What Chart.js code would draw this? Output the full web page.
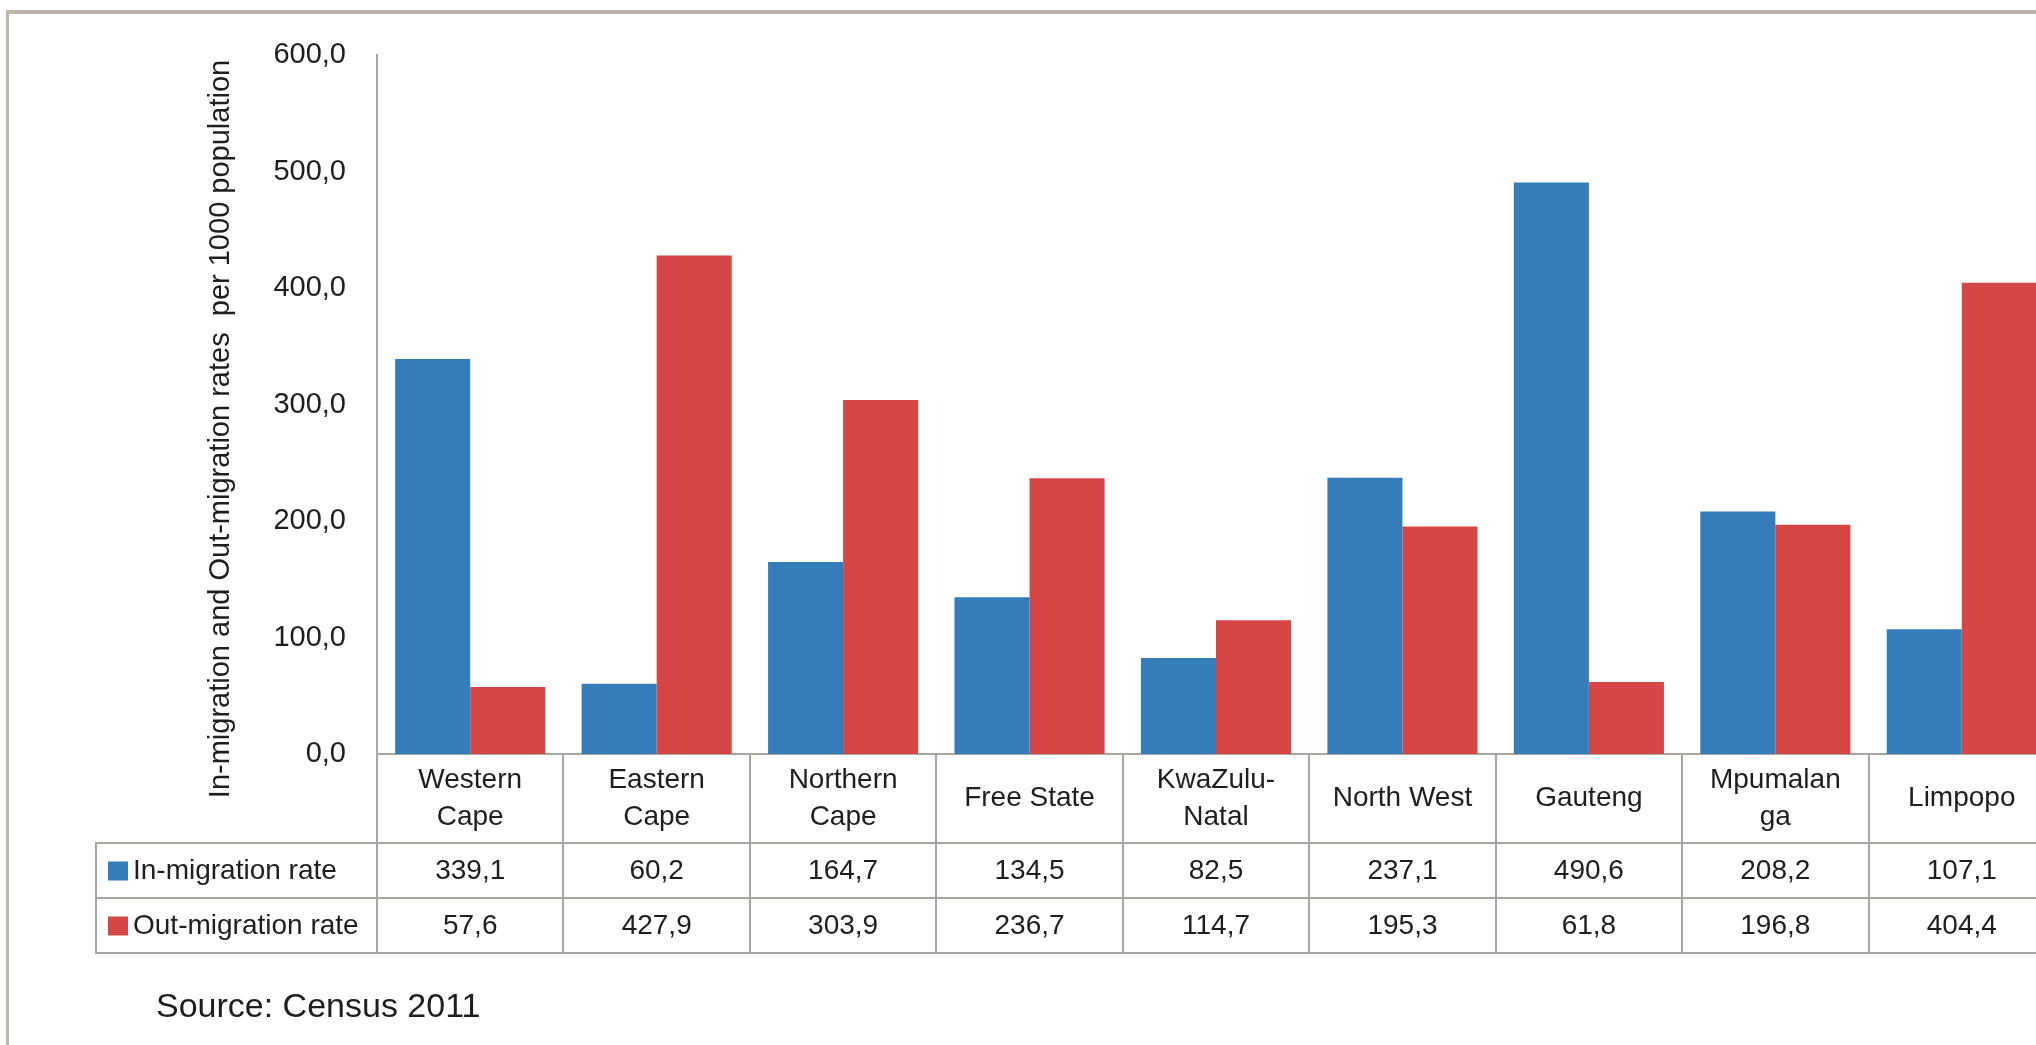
<!DOCTYPE html>
<html>
<head>
<meta charset="utf-8">
<script src="https://cdn.jsdelivr.net/npm/chart.js@4.4.1/dist/chart.umd.min.js"></script>
<style>
  html, body { margin: 0; padding: 0; background: #fff; }
  body { width: 2036px; height: 1045px; overflow: hidden; position: relative; }
  #frame {
    position: absolute; left: 6px; top: 10px; width: 2200px; height: 1200px;
    border-top: 4px solid #bab5af; border-left: 3px solid #bab5af;
  }
  #chart { position: absolute; left: 0; top: 0; }
  #source {
    position: absolute; left: 156px; top: 986px;
    font: 34px "Liberation Sans", Arial, sans-serif; color: #1e1e1e;
  }
</style>
</head>
<body>
<div id="frame"></div>
<canvas id="chart" width="2100" height="1045"></canvas>
<div id="source">Source: Census 2011</div>

<script>
const categories = [
  ["Western", "Cape"], ["Eastern", "Cape"], ["Northern", "Cape"], "Free State",
  ["KwaZulu-", "Natal"], "North West", "Gauteng", ["Mpumalan", "ga"], "Limpopo"
];
const inMigration = [339.1, 60.2, 164.7, 134.5, 82.5, 237.1, 490.6, 208.2, 107.1];
const outMigration = [57.6, 427.9, 303.9, 236.7, 114.7, 195.3, 61.8, 196.8, 404.4];
const seriesNames = ["In-migration rate", "Out-migration rate"];
const yTitle = "In-migration and Out-migration rates  per 1000 population";

const blue = "#357dba";
const red = "#d64644";
const lineColor = "#a9a5a0";
const textColor = "#1e1e1e";
const font = '"Liberation Sans", Arial, sans-serif';

const fmt = (v) => v.toFixed(1).replace(".", ",");

// data table under the axis, plus the rotated y title
const tablePlugin = {
  id: "dataTable",
  afterDraw(chart) {
    const ctx = chart.ctx;
    const x = chart.scales.x;
    const labelRow = 89;
    const rowH = 55;
    const tableLeft = 96;
    const rowTop = x.top + labelRow;

    ctx.save();
    ctx.strokeStyle = lineColor;
    ctx.lineWidth = 2;
    ctx.beginPath();
    for (let r = 0; r <= 2; r++) {
      const y = rowTop + r * rowH;
      ctx.moveTo(tableLeft, y);
      ctx.lineTo(x.right, y);
    }
    ctx.moveTo(tableLeft, rowTop - 1);
    ctx.lineTo(tableLeft, rowTop + 2 * rowH + 1);
    ctx.stroke();

    ctx.font = "28px " + font;
    ctx.textBaseline = "middle";
    chart.data.datasets.forEach((ds, r) => {
      const yMid = rowTop + r * rowH + rowH / 2;
      ctx.fillStyle = ds.backgroundColor;
      ctx.fillRect(tableLeft + 12, yMid - 9, 20, 19);
      ctx.fillStyle = textColor;
      ctx.textAlign = "left";
      ctx.fillText(ds.label, tableLeft + 37, yMid + 1);
      ctx.textAlign = "center";
      ds.data.forEach((v, i) => {
        ctx.fillText(fmt(v), x.getPixelForValue(i), yMid + 1);
      });
    });

    ctx.translate(221, 429);
    ctx.rotate(-Math.PI / 2);
    ctx.font = "29px " + font;
    ctx.textAlign = "center";
    ctx.fillText(yTitle, 0, 0);
    ctx.restore();
  }
};

const ctx = document.getElementById("chart").getContext("2d");

new Chart(ctx, {
  type: "bar",
  data: {
    labels: categories,
    datasets: [
      { label: seriesNames[0], data: inMigration, backgroundColor: blue },
      { label: seriesNames[1], data: outMigration, backgroundColor: red }
    ]
  },
  options: {
    responsive: false,
    animation: false,
    devicePixelRatio: 1,
    layout: { padding: { left: 227, top: 55, right: 45, bottom: 91 } },
    categoryPercentage: 0.805,
    barPercentage: 1,
    plugins: {
      legend: { display: false },
      tooltip: { enabled: false }
    },
    scales: {
      x: {
        afterFit: (s) => { s.height = 200; },
        grid: {
          display: true,
          offset: true,
          drawOnChartArea: false,
          drawTicks: true,
          tickLength: 200,
          color: lineColor,
          lineWidth: 2
        },
        border: { display: true, color: lineColor, width: 2 },
        ticks: {
          padding: -174,
          crossAlign: "center",
          maxRotation: 0,
          autoSkip: false,
          color: textColor,
          font: { family: font, size: 28, lineHeight: 1.32 }
        }
      },
      y: {
        min: 0,
        max: 600,
        afterFit: (s) => { s.width = 150; },
        grid: { display: false, drawTicks: false },
        border: { display: true, color: lineColor, width: 2 },
        ticks: {
          stepSize: 100,
          padding: 31,
          color: textColor,
          font: { family: font, size: 29 },
          callback: (v) => fmt(v)
        }
      }
    }
  },
  plugins: [tablePlugin]
});
</script>
</body>
</html>
